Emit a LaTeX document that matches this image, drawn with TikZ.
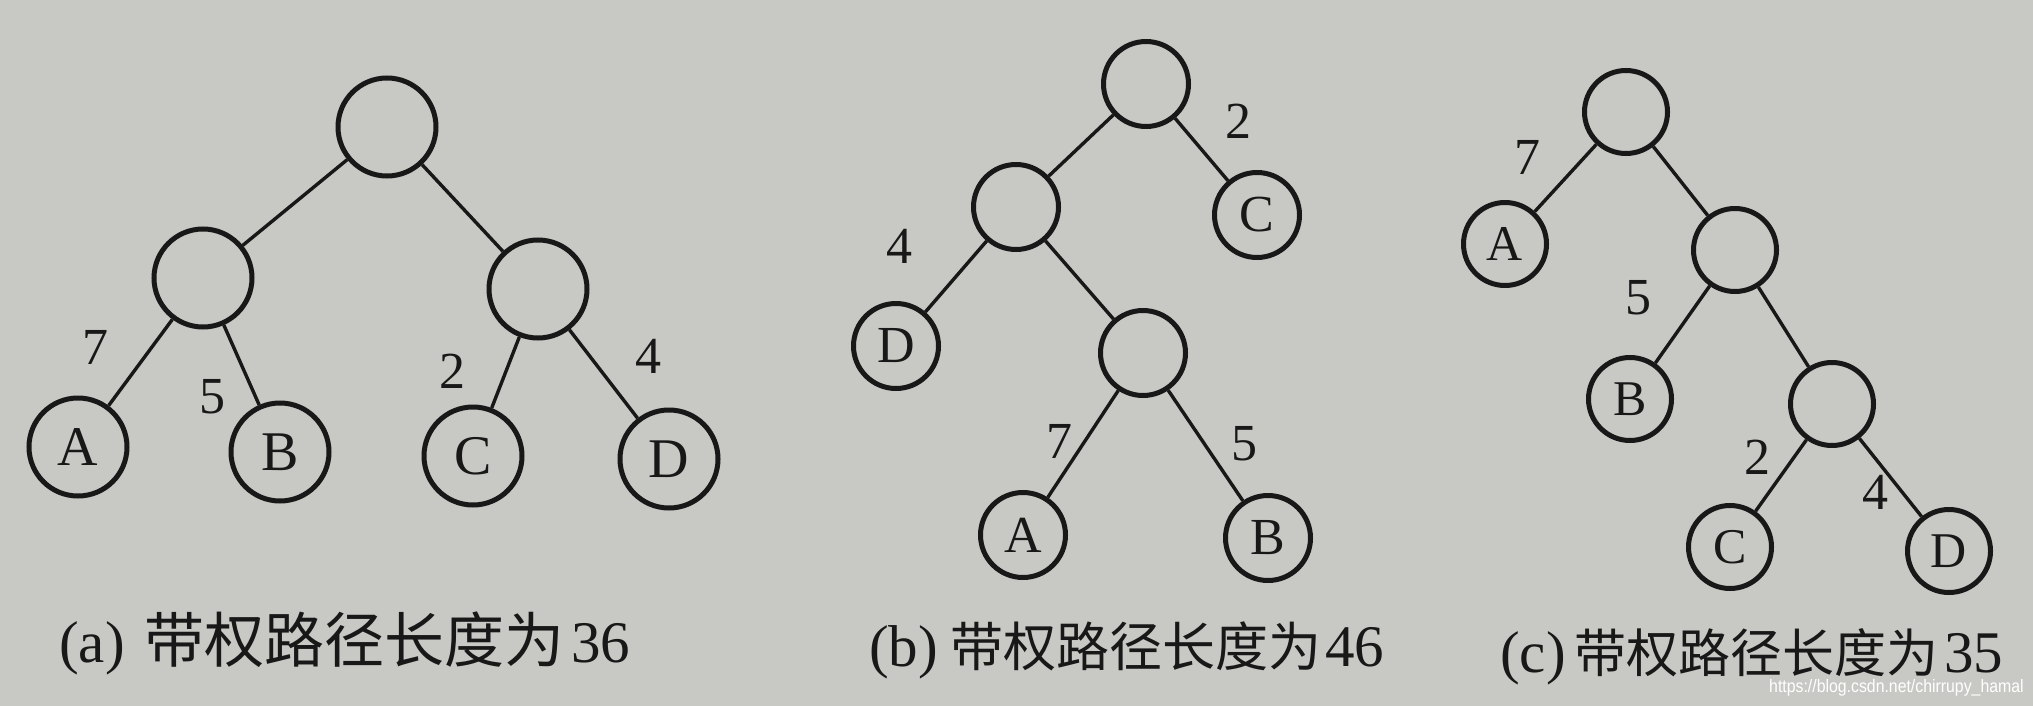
\documentclass[tikz,border=0pt]{standalone}
\usepackage{fontspec}
\setmainfont{Liberation Serif}
\newfontfamily\cjk{Noto Sans CJK SC}
\newfontfamily\wmfont{Liberation Sans}
\definecolor{paper}{RGB}{200,200,196}
\definecolor{ink}{RGB}{24,24,24}
\tikzset{
  tnode/.style={circle, draw=ink, line width=5pt, inner sep=0pt, text=ink},
  tna/.style={tnode, minimum size=98pt, font=\fontsize{56}{56}\selectfont},
  tnb/.style={tnode, minimum size=85pt, font=\fontsize{52}{52}\selectfont},
  tnc/.style={tnode, minimum size=83pt, font=\fontsize{50}{50}\selectfont},
  tedge/.style={draw=ink, line width=3.4pt},
  wlabel/.style={inner sep=0pt, text=ink, font=\fontsize{52}{52}\selectfont},
  capt/.style={inner sep=0pt, anchor=base west, text=ink},
}
\newcommand{\latcap}{\fontsize{59}{59}\selectfont}
\begin{document}
\begin{tikzpicture}[x=1pt,y=-1pt]
\fill[paper] (0,0) rectangle (2033,706);
\useasboundingbox (0,0) rectangle (2033,706);

% ---------- tree (a)
\node[tna] (a0) at (387,127) {};
\node[tna] (a1) at (203,278) {};
\node[tna] (a2) at (538,289) {};
\node[tna] (aA) at (78,447) {A};
\node[tna] (aB) at (280,452) {B};
\node[tna] (aC) at (473,456) {C};
\node[tna] (aD) at (669,459) {D};
\draw[tedge] (a0) -- (a1);
\draw[tedge] (a0) -- (a2);
\draw[tedge] (a1) -- (aA);
\draw[tedge] (a1) -- (aB);
\draw[tedge] (a2) -- (aC);
\draw[tedge] (a2) -- (aD);
\node[wlabel] (la7) at (95,347) {7};
\node[wlabel] (la5) at (212,397) {5};
\node[wlabel] (la2) at (452,371) {2};
\node[wlabel] (la4) at (648,356) {4};

% ---------- tree (b)
\node[tnb] (b0) at (1146,84) {};
\node[tnb] (b1) at (1016,207) {};
\node[tnb] (bC) at (1257,215) {C};
\node[tnb] (bD) at (896,346) {D};
\node[tnb] (b2) at (1143,353) {};
\node[tnb] (bA) at (1023,535) {A};
\node[tnb] (bB) at (1268,538) {B};
\draw[tedge] (b0) -- (b1);
\draw[tedge] (b0) -- (bC);
\draw[tedge] (b1) -- (bD);
\draw[tedge] (b1) -- (b2);
\draw[tedge] (b2) -- (bA);
\draw[tedge] (b2) -- (bB);
\node[wlabel] (lb2) at (1238,121) {2};
\node[wlabel] (lb4) at (899,246) {4};
\node[wlabel] (lb7) at (1059,441) {7};
\node[wlabel] (lb5) at (1244,444) {5};

% ---------- tree (c)
\node[tnc] (c0) at (1626,112) {};
\node[tnc] (cA) at (1505,244) {A};
\node[tnc] (c1) at (1735,250) {};
\node[tnc] (cB) at (1630,399) {B};
\node[tnc] (c2) at (1832,404) {};
\node[tnc] (cC) at (1730,547) {C};
\node[tnc] (cD) at (1949,551) {D};
\draw[tedge] (c0) -- (cA);
\draw[tedge] (c0) -- (c1);
\draw[tedge] (c1) -- (cB);
\draw[tedge] (c1) -- (c2);
\draw[tedge] (c2) -- (cC);
\draw[tedge] (c2) -- (cD);
\node[wlabel] (lc7) at (1527,157) {7};
\node[wlabel] (lc5) at (1638,298) {5};
\node[wlabel] (lc2) at (1757,457) {2};
\node[wlabel] (lc4) at (1875,492) {4};

% ---------- captions
\node[capt, font=\latcap] (capaL) at (59,662) {(a)};
\node[capt, font=\cjk\fontsize{60}{60}\selectfont] (capaC) at (144,662) {带权路径长度为};
\node[capt, font=\latcap] (capaN) at (571,662) {36};

\node[capt, font=\latcap] (capbL) at (869,666) {(b)};
\node[capt, font=\cjk\fontsize{53}{53}\selectfont] (capbC) at (950,666) {带权路径长度为};
\node[capt, font=\latcap] (capbN) at (1325,666) {46};

\node[capt, font=\latcap] (capcL) at (1500,672) {(c)};
\node[capt, font=\cjk\fontsize{52}{52}\selectfont] (capcC) at (1574,672) {带权路径长度为};
\node[capt, font=\latcap] (capcN) at (1944,672) {35};

% ---------- watermark
\node[inner sep=0pt, anchor=base west, text=white] (wm) at (1769,692)
  {\scalebox{0.88}[1]{\wmfont\fontsize{18}{18}\selectfont https://blog.csdn.net/chirrupy\_hamal}};
\end{tikzpicture}
\end{document}
